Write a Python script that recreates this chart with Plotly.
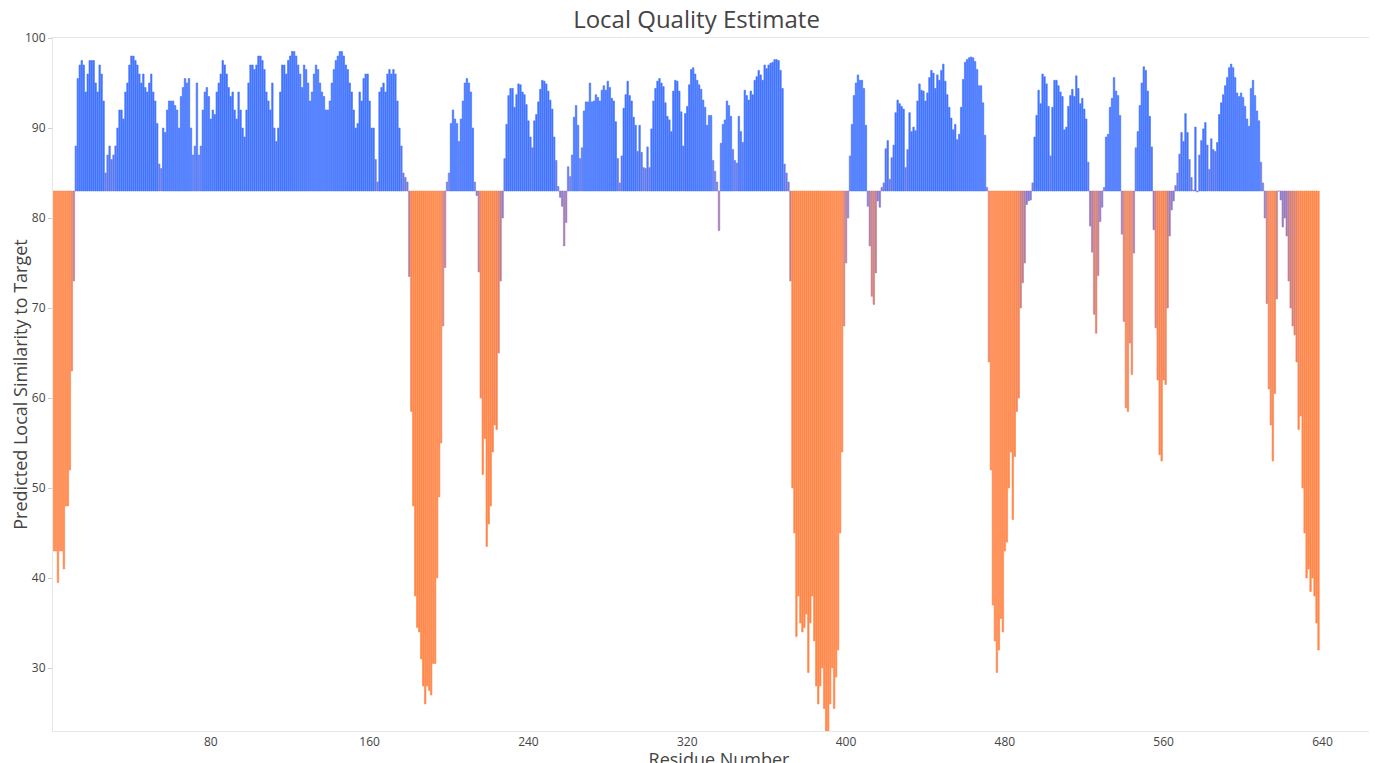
import plotly.graph_objects as go

BASE = 83

# per-residue scores in runs
seg_a = [43, 43, 39.5, 43, 43, 41, 48, 48, 52, 63, 73]
seg_b = [88, 95.5, 97, 97.5, 97, 94, 96, 97.5, 97.5, 97.5, 95, 94, 97, 96, 93,
         85, 87, 88, 86.5, 87, 88, 90, 92, 92, 91,
         94, 95, 97, 98, 98, 97.5, 97, 96, 95, 96, 94.5, 94, 95, 96,
         94, 93, 90.5, 86, 85.5, 90, 89.5, 92, 93, 93,
         93, 92.5, 92, 90, 93.5, 94.5, 95.5, 95, 95.5, 90,
         87, 88, 95, 87, 88, 92, 94, 94.5, 93.5, 91,
         92, 91.5, 94, 95, 96, 97.5, 97, 96, 94.5, 93.5,
         94, 92, 91, 94, 92, 90, 89, 92, 95, 97,
         97, 96.5, 97, 98, 98, 97.5, 96.5, 94, 93, 92,
         95, 90, 88.5, 90, 94, 97, 97, 96, 97.5, 98,
         98.5, 98.5, 98, 97, 96, 94.5, 97, 96.5, 95, 93,
         94, 96, 97, 96.5, 95, 94, 93.5, 92, 92, 93,
         95, 96.5, 97.5, 98, 98.5, 98.5, 98, 97, 96.5, 95,
         94, 92, 90, 90.5, 94, 93, 95.5, 96, 96, 93,
         90, 90, 86.5, 84, 94, 94.5, 95, 94, 96, 96.5,
         96, 96.5, 96, 93, 90, 88, 85, 84.5, 84]
seg_c = [73.5, 58.5, 48, 38, 34.5, 34, 31, 28, 26, 28, 27.5, 27, 30.5, 30.5,
         40, 49, 55, 68, 74.5]
seg_d = [84, 85, 90.5, 92, 91, 90.5, 88.5, 91, 93, 95, 95.5, 95, 94, 90, 84, 82.5]
seg_e = [74, 60, 51.5, 55.5, 43.5, 46, 48, 54, 57, 56.5, 65, 73, 80]
seg_f = [86.6, 90.4, 93.6, 94.4, 94.4, 92.3, 93.7, 94.9, 94.8, 94, 93.7, 92.6,
         90.8, 89, 87.8, 90.8, 91.5, 92.9, 94.3, 95.3, 95.2, 94.9, 94.1, 93.1,
         92.1, 89, 86.4, 83.5, 82.3, 81.3, 76.9, 79.5, 85.7, 84.6, 87, 91.2,
         92.5, 90.3, 86.6, 87.8, 91.9, 92.9, 92.9, 95, 92.9, 93, 93.7, 93.4,
         93, 94.2, 94.7, 94.2, 95.2, 94.5, 93.3, 93, 90.7, 86.6, 83.9, 86.9,
         92.2, 93.7, 95.2, 93.6, 93, 91.2, 90.3, 87.4, 90.3, 87.3, 85.6, 85.5,
         87.9, 85.6, 89.9, 93.0, 94.4, 95.2, 95.5, 95.0, 94.6, 92.8, 91.3, 90.9,
         89.6, 94.1, 95.3, 95.2, 94.1, 91.8, 88, 91.6, 92.4, 94.8, 96.5, 96.7,
         96, 95.3, 94.8, 94.3, 93.1, 92.3, 90.3, 91.4, 91.4, 86.4, 85.2, 84,
         78.6, 88.3, 90.4, 90.9, 93, 92.5, 91.3, 87.6, 86.4, 86.1, 91.3, 89.6,
         88.4, 94.2, 93.6, 93.1, 94.1, 93.7, 95.3, 95.7, 96.4, 95.9, 95.3, 97,
         96.6, 97, 97.2, 97.3, 97.6, 97.6, 97.5, 96.4, 94.4, 86, 85, 84]
seg_g = [73, 50, 45, 33.5, 38, 35, 34, 34.5, 36, 29.5, 35, 38, 33, 28, 26, 28,
         30, 25.5, 23, 22.5, 26, 30, 25.5, 29, 32, 45, 54, 68, 75, 80]
seg_h = [86.9, 90.4, 93.6, 95, 95.9, 95.3, 95.3, 94.4, 90.3, 81.3, 76.9, 71.3,
         70.4, 73.9, 81.9, 81.2, 83.4, 83.9, 87.7, 88.6, 84.3, 86.7, 88.1, 91.7,
         93.1, 92.7, 92.4, 92.1, 85.6, 87.6, 91.7, 89.6, 90.1, 89.7, 93, 94.9,
         94.2, 94.1, 93, 93.9, 95.6, 96.4, 96.1, 94.4, 95.9, 95.3, 96.4, 97.1,
         95.2, 93.7, 92.3, 91.1, 89.8, 90.4, 88.7, 89.3, 92.3, 95.4, 97.3, 97.6,
         97.8, 97.9, 97.8, 97.4, 96.5, 94.7, 94.7, 92.8, 89.2, 83.4]
seg_i = [64, 52, 37, 33, 29.5, 32, 35.5, 34, 43, 44, 50, 54, 46.5, 53.5, 58.5,
         60, 70, 72.8, 75, 81.5, 81.9, 82]
seg_j = [83.9, 89, 91.4, 94.2, 92.7, 96, 95.7, 94.9, 92.4, 86.9, 92.3, 95.3,
         95.3, 94.7, 94, 93.5, 89.8, 90.1, 92.4, 93.6, 94.3, 93.5, 95.8, 94.4,
         92.7, 93.3, 92.1, 91, 86.2, 79.1, 76.2, 69.3, 67.2, 73.6, 79.6, 81.2,
         83.4, 89, 89.3, 92.3, 93.3, 95.6, 94.1, 93.6, 91.4, 78.2, 68.5, 58.9,
         58.5, 66.1, 62.6, 76.1, 87.8, 89.6, 92.5, 95, 96.8, 96.4, 94.1, 91.3,
         87.9, 78.7, 67.8, 62, 53.7, 53, 62, 61.5, 70, 78, 80.9, 81.9]
seg_k = [83.6, 85, 87.1, 89.5, 88.5, 91.6, 89.5, 86.5, 84.5, 83.1, 90.1, 82.9,
         87, 88.6, 89.9, 90.6, 88.1, 85.4, 88.8, 87.6, 87.4, 88.4, 91.5, 92.8,
         93.7, 94.7, 95.6, 96.7, 97.1, 96.7, 95.6, 93.9, 93.5, 93.9, 93.4, 92.4,
         91, 90.2, 94.4, 95.3, 93.6, 91.9, 90.8, 86.2, 83.9]
seg_l = [80, 70.5, 61, 57, 53, 60.5, 71, 83, 82, 79, 80, 78, 73, 70, 68, 67, 64,
         56.5, 58, 50, 45, 40, 41, 38.5, 40, 38, 35, 32]

scores = (seg_a + seg_b + seg_c + seg_d + seg_e + seg_f + seg_g + seg_h
          + seg_i + seg_j + seg_k + seg_l)
residues = list(range(1, len(scores) + 1))

xticks = [80, 160, 240, 320, 400, 480, 560, 640]
yticks = [30, 40, 50, 60, 70, 80, 90, 100]

scale = [[0, "#ff7a35"], [0.3, "#f2784a"], [0.55, "#c47078"], [0.75, "#8a6cc0"],
         [0.88, "#5a6ee8"], [1, "#2f66ff"]]

fig = go.Figure()
fig.add_trace(go.Bar(
    x=residues,
    y=[s - BASE for s in scores],
    base=BASE,
    marker=dict(color=scores, colorscale=scale, cmin=50, cmax=90,
                line=dict(color=scores, colorscale=scale, cmin=50, cmax=90, width=0.6)),
    opacity=0.9,
))

fig.update_layout(
    width=1377, height=763,
    plot_bgcolor="white", paper_bgcolor="white",
    margin=dict(l=45, r=0, t=30, b=40),
    bargap=0.25,
    showlegend=False,
    font=dict(family="Open Sans", color="#444"),
    title=dict(text="Local Quality Estimate", x=0.5, y=0.985, xanchor="center",
               yanchor="middle", font=dict(size=24, color="#444")),
)
fig.update_xaxes(title=dict(text="Residue Number", font=dict(size=18), standoff=0),
                 range=[0.5, max(671.5, len(scores) + 0.5)], tickvals=xticks,
                 showgrid=False, zeroline=False, automargin=False,
                 showline=True, linecolor="#e6e6e6", mirror=True, tickfont=dict(size=12))
fig.update_yaxes(title=dict(text="Predicted Local Similarity to Target", font=dict(size=18), standoff=4),
                 range=[23, 100], tickvals=yticks, showgrid=False, zeroline=False,
                 automargin=False,
                 showline=True, linecolor="#e6e6e6", mirror=True, ticks="outside",
                 ticklen=4, tickcolor="#ccc", tickfont=dict(size=12))

fig.write_html("out.html")
